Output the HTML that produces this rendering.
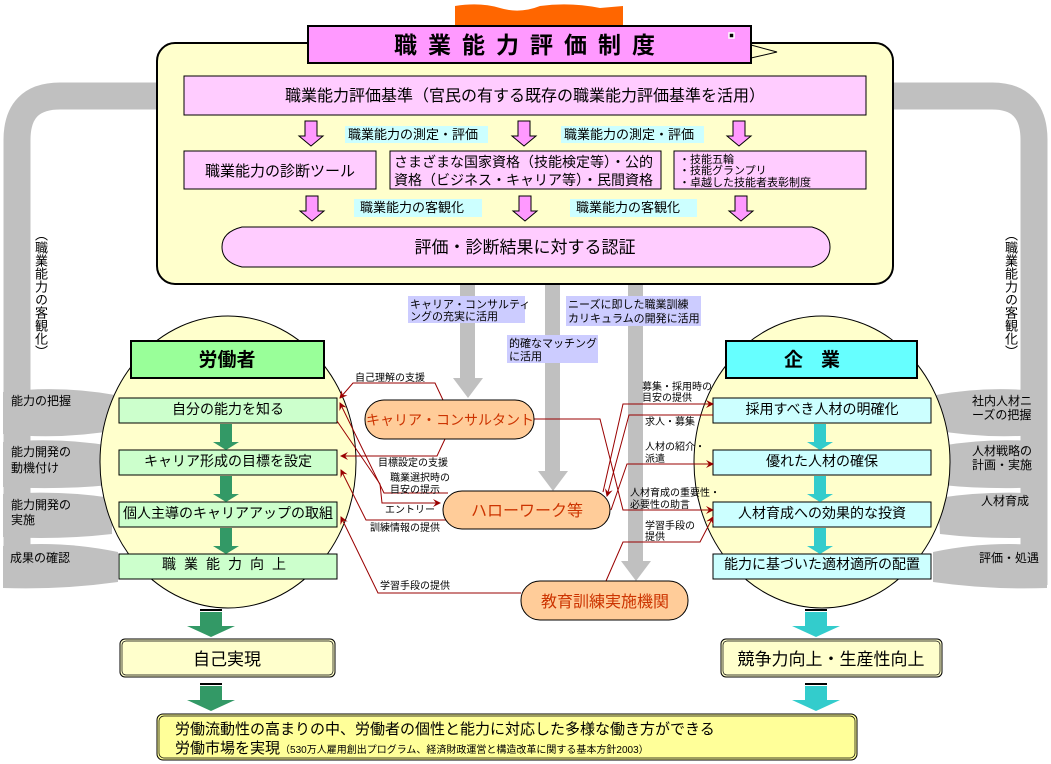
<!DOCTYPE html>
<html><head><meta charset="utf-8"><style>
body{margin:0;background:#fff;width:1051px;height:764px;overflow:hidden;position:relative;font-family:"Liberation Sans","Noto Sans CJK JP",sans-serif}
svg{position:absolute;left:0;top:0}
svg text{font-family:"Liberation Sans","Noto Sans CJK JP",sans-serif}
.v{position:absolute;writing-mode:vertical-rl;font-size:13px;line-height:14px;color:#000;font-family:"Liberation Sans","Noto Sans CJK JP",sans-serif}
</style></head><body>
<svg width="1051" height="764" viewBox="0 0 1051 764">
<defs>
<marker id="ah" markerWidth="8" markerHeight="8" refX="7" refY="4" orient="auto" markerUnits="userSpaceOnUse"><path d="M0,0 L8,4 L0,8 L3,4z" fill="#990000"/></marker>
</defs>
<!-- gray bands -->
<path d="M190,96 H60 Q17,96 17,140 V585" fill="none" stroke="#c0c0c0" stroke-width="27"/>
<path d="M860,96 H992 Q1034,96 1034,140 V585" fill="none" stroke="#c0c0c0" stroke-width="27"/>
<g fill="#c0c0c0">
<path d="M3,392 Q60,385 115,395 L118,430 Q60,440 3,434z"/>
<path d="M3,442 Q60,437 112,446 L110,485 Q60,490 3,487z"/>
<path d="M3,494 Q60,490 112,498 L112,534 Q60,540 3,537z"/>
<path d="M3,546 Q60,540 118,552 L118,582 Q60,590 3,588z"/>
<path d="M1047,392 Q990,385 936,395 L933,430 Q990,440 1047,434z"/>
<path d="M1047,442 Q990,437 940,446 L942,485 Q990,490 1047,487z"/>
<path d="M1047,494 Q990,490 938,498 L940,534 Q990,540 1047,537z"/>
<path d="M1047,546 Q990,540 933,552 L933,582 Q990,590 1047,588z"/>
</g>
<!-- flag -->
<path d="M455,26 V6 Q480,2 500,8 Q520,14 540,6 Q570,2 600,8 L623,6 V26z" fill="#ff6600"/>
<!-- main panel -->
<rect x="157" y="43" width="736" height="241" rx="18" fill="#ffffcc" stroke="#000" stroke-width="2"/>
<path d="M751,45 L777,52 L751,58z" fill="#ffffcc" stroke="#000" stroke-width="1"/>
<rect x="308" y="26" width="443" height="37" fill="#ff99ff" stroke="#000" stroke-width="2"/>
<text x="530" y="53" font-size="23" font-weight="bold" text-anchor="middle" letter-spacing="11">職業能力評価制度</text>
<rect x="729" y="33" width="5" height="5" fill="#000" stroke="#fff" stroke-width="1.5"/>
<rect x="184" y="76" width="682" height="39" fill="#ffccff" stroke="#000"/>
<text x="525" y="101" font-size="16" text-anchor="middle">職業能力評価基準（官民の有する既存の職業能力評価基準を活用）</text>
<g fill="#ff99ff" stroke="#000" stroke-width="1">
<path d="M305,121 h12 v15 h6 l-12,10 l-12,-10 h6z"/>
<path d="M518,121 h12 v15 h6 l-12,10 l-12,-10 h6z"/>
<path d="M733,121 h12 v15 h6 l-12,10 l-12,-10 h6z"/>
<path d="M306,196 h12 v15 h6 l-12,10 l-12,-10 h6z"/>
<path d="M519,196 h12 v15 h6 l-12,10 l-12,-10 h6z"/>
<path d="M735,196 h12 v15 h6 l-12,10 l-12,-10 h6z"/>
</g>
<rect x="345" y="126" width="143" height="17" fill="#ccffff"/>
<rect x="561" y="126" width="143" height="17" fill="#ccffff"/>
<rect x="354" y="199" width="128" height="18" fill="#ccffff"/>
<rect x="570" y="199" width="127" height="18" fill="#ccffff"/>
<g font-size="13"><text x="348" y="139">職業能力の測定・評価</text><text x="564" y="139">職業能力の測定・評価</text>
<text x="360" y="212">職業能力の客観化</text><text x="576" y="212">職業能力の客観化</text></g>
<rect x="184" y="151" width="192" height="38" fill="#ffccff" stroke="#000"/>
<text x="280" y="176" font-size="15" text-anchor="middle">職業能力の診断ツール</text>
<rect x="390" y="151" width="271" height="38" fill="#ffccff" stroke="#000"/>
<text x="394" y="167" font-size="14">さまざまな国家資格（技能検定等）・公的</text>
<text x="394" y="185" font-size="14">資格（ビジネス・キャリア等）・民間資格</text>
<rect x="674" y="151" width="192" height="38" fill="#ffccff" stroke="#000"/>
<g font-size="11"><text x="679" y="163">・技能五輪</text><text x="679" y="174">・技能グランプリ</text><text x="679" y="186">・卓越した技能者表彰制度</text></g>
<path d="M242,227 H812 Q830,232 830,247 Q830,262 812,267 H242 Q222,262 222,247 Q222,232 242,227z" fill="#ffccff" stroke="#000"/>
<text x="525" y="253" font-size="17" text-anchor="middle">評価・診断結果に対する認証</text>
<!-- gray down arrows -->
<g fill="#c0c0c0">
<path d="M460,285 h15 v93 h8 l-15,20 l-15,-20 h7z"/>
<path d="M545,285 h15 v186 h8 l-15,20 l-15,-20 h7z"/>
<path d="M628,285 h15 v276 h8 l-15,20 l-15,-20 h7z"/>
</g>
<rect x="408" y="296" width="117" height="27" fill="#ccccff"/>
<rect x="507" y="335" width="91" height="28" fill="#ccccff"/>
<rect x="566" y="296" width="135" height="30" fill="#ccccff"/>
<g font-size="11"><text x="410" y="308">キャリア・コンサルティ</text><text x="410" y="320">ングの充実に活用</text>
<text x="509" y="347">的確なマッチング</text><text x="509" y="360">に活用</text>
<text x="568" y="308">ニーズに即した職業訓練</text><text x="568" y="322">カリキュラムの開発に活用</text></g>
<!-- ellipses -->
<ellipse cx="228" cy="462" rx="128" ry="146" fill="#ffffcc" stroke="#000"/>
<ellipse cx="822" cy="462" rx="128" ry="146" fill="#ffffcc" stroke="#000"/>
<rect x="131" y="341" width="193" height="37" fill="#99ff99" stroke="#000" stroke-width="2"/>
<text x="227" y="366" font-size="19" font-weight="bold" text-anchor="middle">労働者</text>
<rect x="726" y="341" width="191" height="37" fill="#66ffff" stroke="#000" stroke-width="2"/>
<text x="821" y="366" font-size="19" font-weight="bold" text-anchor="middle" letter-spacing="18">企業</text>
<g fill="#ccffcc" stroke="#000"><rect x="119" y="398" width="218" height="25"/><rect x="119" y="450" width="218" height="25"/><rect x="119" y="502" width="218" height="25"/><rect x="119" y="554" width="218" height="25"/></g>
<g fill="#ccffff" stroke="#000"><rect x="713" y="398" width="218" height="25"/><rect x="713" y="450" width="218" height="25"/><rect x="713" y="502" width="218" height="25"/><rect x="713" y="554" width="218" height="25"/></g>
<g font-size="14" text-anchor="middle"><text x="228" y="414">自分の能力を知る</text><text x="228" y="466">キャリア形成の目標を設定</text><text x="228" y="518">個人主導のキャリアアップの取組</text><text x="228" y="569" letter-spacing="8">職業能力向上</text>
<text x="822" y="414">採用すべき人材の明確化</text><text x="822" y="466">優れた人材の確保</text><text x="822" y="518">人材育成への効果的な投資</text><text x="822" y="569">能力に基づいた適材適所の配置</text></g>
<g fill="#339966"><path d="M220,424 h12 v18 h7 l-13,8 l-13,-8 h7z"/><path d="M220,476 h12 v18 h7 l-13,8 l-13,-8 h7z"/><path d="M220,528 h12 v18 h7 l-13,8 l-13,-8 h7z"/></g>
<g fill="#33cccc"><path d="M814,424 h12 v18 h7 l-13,8 l-13,-8 h7z"/><path d="M814,476 h12 v18 h7 l-13,8 l-13,-8 h7z"/><path d="M814,528 h12 v18 h7 l-13,8 l-13,-8 h7z"/></g>
<!-- side labels -->
<g font-size="12"><text x="11" y="405">能力の把握</text><text x="11" y="456">能力開発の</text><text x="11" y="472">動機付け</text><text x="11" y="509">能力開発の</text><text x="11" y="524">実施</text><text x="10" y="562">成果の確認</text>
<text x="972" y="405">社内人材ニ</text><text x="972" y="419">ーズの把握</text><text x="972" y="455">人材戦略の</text><text x="972" y="469">計画・実施</text><text x="981" y="505">人材育成</text><text x="979" y="562">評価・処遇</text></g>
<!-- red connectors -->
<g fill="none" stroke="#990000" stroke-width="1">
<path d="M443,400 L435,383 H353 L340,398" marker-end="url(#ah)"/>
<path d="M445,439 L437,456 H341" marker-end="url(#ah)"/>
<path d="M448,493 H384 L340,403" marker-end="url(#ah)"/>
<path d="M337,421 L380,484 L382,503 H440" marker-end="url(#ah)"/>
<path d="M446,520 H366 L341,470" marker-end="url(#ah)"/>
<path d="M521,593 H378 L341,517" marker-end="url(#ah)"/>
<path d="M534,419 H600 L623,510 H713" marker-end="url(#ah)"/>
<path d="M603,492 L623,404 H713" marker-end="url(#ah)"/>
<path d="M713,415 H629 L607,496" marker-end="url(#ah)"/>
<path d="M611,510 L627,464 H713" marker-end="url(#ah)"/>
<path d="M606,581 L623,542 H700 L713,517" marker-end="url(#ah)"/>
</g>
<g font-size="10"><text x="355" y="381">自己理解の支援</text><text x="378" y="466">目標設定の支援</text><text x="390" y="481">職業選択時の</text><text x="390" y="493">目安の提示</text>
<text x="385" y="513">エントリー</text><text x="370" y="531">訓練情報の提供</text><text x="380" y="589">学習手段の提供</text>
<text x="642" y="390">募集・採用時の</text><text x="642" y="401">目安の提供</text><text x="645" y="425">求人・募集</text><text x="645" y="450">人材の紹介・</text><text x="645" y="462">派遣</text>
<text x="630" y="496">人材育成の重要性・</text><text x="630" y="508">必要性の助言</text><text x="645" y="529">学習手段の</text><text x="645" y="540">提供</text></g>
<!-- orange pills -->
<g fill="#ffcc99" stroke="#000"><rect x="365" y="400" width="169" height="39" rx="19"/><rect x="443" y="491" width="167" height="38" rx="19"/><rect x="521" y="581" width="167" height="39" rx="19"/></g>
<g fill="#cc3300" text-anchor="middle"><text x="450" y="425" font-size="14">キャリア・コンサルタント</text><text x="527" y="516" font-size="16">ハローワーク等</text><text x="605" y="607" font-size="16">教育訓練実施機関</text></g>
<!-- bottom -->
<g fill="#339966"><rect x="200" y="609" width="22" height="2" fill="#000"/><path d="M200,612 h22 v14 h13 l-24,11 l-24,-11 h13z"/><rect x="200" y="683" width="22" height="2" fill="#000"/><path d="M200,686 h22 v14 h13 l-24,11 l-24,-11 h13z"/></g>
<g fill="#33cccc"><rect x="805" y="609" width="22" height="2" fill="#000"/><path d="M805,612 h22 v14 h13 l-24,11 l-24,-11 h13z"/><rect x="805" y="683" width="22" height="2" fill="#000"/><path d="M805,686 h22 v14 h13 l-24,11 l-24,-11 h13z"/></g>
<rect x="120" y="639" width="215" height="38" rx="5" fill="#ffffcc" stroke="#000"/><rect x="122" y="641" width="211" height="34" rx="4" fill="none" stroke="#000" stroke-width="0.7"/>
<text x="227" y="665" font-size="17" text-anchor="middle">自己実現</text>
<rect x="721" y="639" width="221" height="38" rx="5" fill="#ffffcc" stroke="#000"/><rect x="723" y="641" width="217" height="34" rx="4" fill="none" stroke="#000" stroke-width="0.7"/>
<text x="831" y="665" font-size="17" text-anchor="middle">競争力向上・生産性向上</text>
<rect x="157" y="714" width="700" height="46" rx="6" fill="#ffff99" stroke="#000"/><rect x="159" y="716" width="696" height="42" rx="5" fill="none" stroke="#000" stroke-width="0.7"/>
<text x="175" y="734" font-size="15">労働流動性の高まりの中、労働者の個性と能力に対応した多様な働き方ができる</text>
<text x="175" y="753" font-size="15">労働市場を実現<tspan font-size="10">（530万人雇用創出プログラム、経済財政運営と構造改革に関する基本方針2003）</tspan></text>
</svg>
<div class="v" style="left:33px;top:228px">（職業能力の客観化）</div>
<div class="v" style="left:1003px;top:228px">（職業能力の客観化）</div>
</body></html>
